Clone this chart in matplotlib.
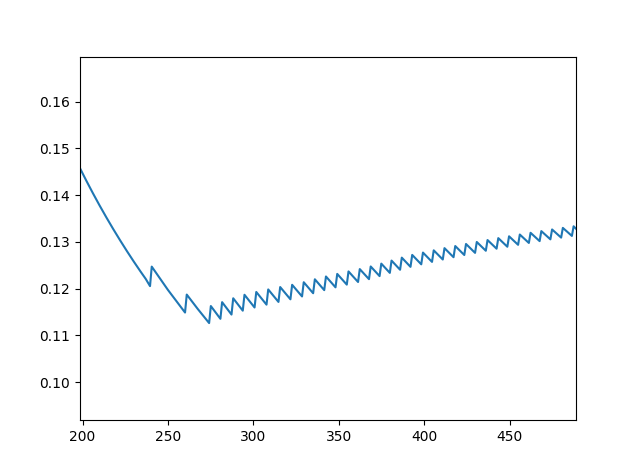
import matplotlib
matplotlib.use("Agg")
import matplotlib.pyplot as plt

# opening curve
head_x = [198.5, 202.0, 206.0, 210.0, 214.0, 218.0, 222.0, 226.0, 230.0,
          234.0, 237.0]
head_y = [0.14574, 0.14322, 0.14044, 0.13776, 0.13519, 0.13271, 0.13032,
          0.12801, 0.12578, 0.12363, 0.12207]

# bottom of each drop (just before the jump) and top after the jump
trough_x = [239.5, 260.0, 274.1, 280.7, 287.2, 293.8, 300.7, 307.7, 314.7,
            321.7, 328.5, 335.0, 341.5, 348.1, 354.7, 361.3, 367.7, 373.9,
            379.9, 385.9, 392.0, 398.3, 404.6, 410.9, 417.2, 423.5, 429.8,
            436.1, 442.4, 448.7, 455.0, 461.3, 467.6, 473.9, 480.2, 486.5]
trough_y = [0.12054, 0.11489, 0.11264, 0.11355, 0.11446, 0.11529, 0.11597,
            0.11658, 0.11716, 0.11772, 0.11833, 0.11902, 0.11968, 0.12028,
            0.12086, 0.12142, 0.12203, 0.12268, 0.12337, 0.12404, 0.12466,
            0.12520, 0.12572, 0.12623, 0.12672, 0.12719, 0.12765, 0.12810,
            0.12854, 0.12896, 0.12937, 0.12977, 0.13016, 0.13054, 0.13091,
            0.13127]
peak_x = [240.5, 261.0, 275.1, 281.7, 288.2, 294.8, 301.7, 308.7, 315.7,
          322.7, 329.5, 336.0, 342.5, 349.1, 355.7, 362.3, 368.7, 374.9,
          380.9, 386.9, 393.0, 399.3, 405.6, 411.9, 418.2, 424.5, 430.8,
          437.1, 443.4, 449.7, 456.0, 462.3, 468.6, 474.9, 481.2, 487.5]
peak_y = [0.12471, 0.11873, 0.11628, 0.11711, 0.11794, 0.11869, 0.11929,
          0.11983, 0.12034, 0.12082, 0.12137, 0.12200, 0.12260, 0.12315,
          0.12368, 0.12418, 0.12474, 0.12535, 0.12600, 0.12663, 0.12721,
          0.12771, 0.12819, 0.12866, 0.12911, 0.12955, 0.12998, 0.13039,
          0.13080, 0.13119, 0.13157, 0.13194, 0.13230, 0.13265, 0.13299,
          0.13333]

# mid points on the longer early segments (they bend a little)
mid_x = [250.0, 267.5]
mid_y = [0.11972, 0.11563]

tail_x = [488.9]
tail_y = [0.13281]

xs = list(head_x)
ys = list(head_y)
for i in range(len(trough_x)):
    xs += [trough_x[i], peak_x[i]]
    ys += [trough_y[i], peak_y[i]]
    if i < len(mid_x):
        xs.append(mid_x[i])
        ys.append(mid_y[i])
xs += tail_x
ys += tail_y

fig, ax = plt.subplots(figsize=(6.4, 4.72), dpi=100)
ax.plot(xs, ys)
ax.set_xlim(198.5, 488.9)
ax.set_ylim(0.0919, 0.1696)
fig.savefig("out.png", dpi=100)
